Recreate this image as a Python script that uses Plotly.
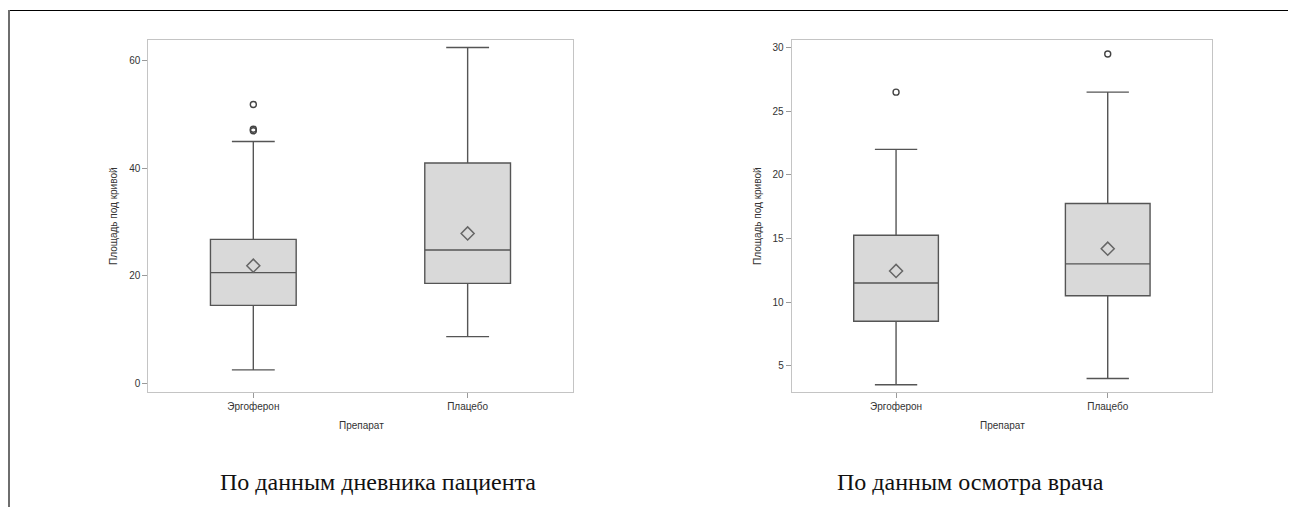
import plotly.graph_objects as go

# page body has an 8px margin; figure placed at (8, 8)
OFF = 8
W, H = 1296 - OFF, 507 - OFF

categories = ["Эргоферон", "Плацебо"]

# Left panel: по данным дневника пациента
left_q1 = [14.5, 18.6]
left_median = [20.6, 24.8]
left_q3 = [26.8, 41.0]
left_lower = [2.5, 8.7]
left_upper = [45.0, 62.5]
left_mean = [21.9, 27.9]
left_out_cat = ["Эргоферон", "Эргоферон", "Эргоферон"]
left_out_val = [51.9, 47.3, 47.0]

# Right panel: по данным осмотра врача
right_q1 = [8.5, 10.5]
right_median = [11.5, 13.0]
right_q3 = [15.25, 17.75]
right_lower = [3.5, 4.0]
right_upper = [22.0, 26.5]
right_mean = [12.45, 14.2]
right_out_cat = ["Эргоферон", "Плацебо"]
right_out_val = [26.5, 29.5]

y_title = "Площадь под кривой"
x_title = "Препарат"
panel_titles = ["По данным дневника пациента", "По данным осмотра врача"]

BOX_FILL = "#d9d9d9"
BOX_LINE = "#555555"
FONT = "Liberation Sans, Arial, sans-serif"

fig = go.Figure()

def add_panel(xa, ya, q1, med, q3, lo, up, mean, oc, ov):
    fig.add_trace(go.Box(
        x=categories, q1=q1, median=med, q3=q3, lowerfence=lo, upperfence=up,
        xaxis=xa, yaxis=ya, width=0.4, whiskerwidth=0.5, boxpoints=False,
        fillcolor=BOX_FILL, line=dict(color=BOX_LINE, width=1.4),
        showlegend=False, hoverinfo="skip"))
    fig.add_trace(go.Scatter(
        x=categories, y=mean, xaxis=xa, yaxis=ya, mode="markers",
        marker=dict(symbol="diamond-open", size=10, color="#666666",
                    line=dict(width=1.5, color="#666666")),
        showlegend=False, hoverinfo="skip"))
    fig.add_trace(go.Scatter(
        x=oc, y=ov, xaxis=xa, yaxis=ya, mode="markers",
        marker=dict(symbol="circle-open", size=6, color="#444444",
                    line=dict(width=1.4, color="#444444")),
        showlegend=False, hoverinfo="skip"))

add_panel("x", "y", left_q1, left_median, left_q3, left_lower, left_upper,
          left_mean, left_out_cat, left_out_val)
add_panel("x2", "y2", right_q1, right_median, right_q3, right_lower, right_upper,
          right_mean, right_out_cat, right_out_val)

px = lambda v: (v - OFF) / W
py = lambda v: 1 - (v - OFF) / H

axis_common = dict(
    showline=True, mirror=True, linecolor="#c4c4c4", linewidth=1,
    ticks="outside", ticklen=5, tickcolor="#9a9a9a", tickwidth=1,
    showgrid=False, zeroline=False,
    tickfont=dict(family=FONT, size=10, color="#333333"),
)

L = [148.3, 573.3, 40, 391.7]
R = [791.7, 1212.3, 40, 392.3]

fig.update_layout(
    width=W, height=H, margin=dict(l=0, r=0, t=0, b=0),
    paper_bgcolor="white", plot_bgcolor="white",
    xaxis=dict(domain=[px(L[0]), px(L[1])], anchor="y", type="category",
               range=[-0.49, 1.493], fixedrange=True, **axis_common),
    yaxis=dict(domain=[py(L[3]), py(L[2])], anchor="x",
               range=[-1.56, 63.9], tickvals=[0, 20, 40, 60], **axis_common),
    xaxis2=dict(domain=[px(R[0]), px(R[1])], anchor="y2", type="category",
                range=[-0.493, 1.494], fixedrange=True, **axis_common),
    yaxis2=dict(domain=[py(R[3]), py(R[2])], anchor="x2",
                range=[2.91, 30.6], tickvals=[5, 10, 15, 20, 25, 30], **axis_common),
    annotations=[
        dict(text=y_title, x=px(113), y=py(216), xref="paper", yref="paper",
             textangle=-90, showarrow=False, xanchor="center", yanchor="middle",
             font=dict(family=FONT, size=10, color="#333333")),
        dict(text=x_title, x=px(361), y=py(425), xref="paper", yref="paper",
             showarrow=False, xanchor="center", yanchor="middle",
             font=dict(family=FONT, size=10, color="#333333")),
        dict(text=y_title, x=px(757), y=py(216), xref="paper", yref="paper",
             textangle=-90, showarrow=False, xanchor="center", yanchor="middle",
             font=dict(family=FONT, size=10, color="#333333")),
        dict(text=x_title, x=px(1002), y=py(425), xref="paper", yref="paper",
             showarrow=False, xanchor="center", yanchor="middle",
             font=dict(family=FONT, size=10, color="#333333")),
        dict(text=panel_titles[0], x=px(378), y=py(482), xref="paper", yref="paper",
             showarrow=False, xanchor="center", yanchor="middle",
             font=dict(family="Liberation Serif, Times New Roman, serif", size=24, color="#111111")),
        dict(text=panel_titles[1], x=px(970), y=py(482), xref="paper", yref="paper",
             showarrow=False, xanchor="center", yanchor="middle",
             font=dict(family="Liberation Serif, Times New Roman, serif", size=24, color="#111111")),
    ],
    shapes=[
        dict(type="line", xref="paper", yref="paper", x0=px(8), x1=1, y0=py(10.5), y1=py(10.5),
             line=dict(color="#000000", width=1)),
        dict(type="line", xref="paper", yref="paper", x0=px(9), x1=px(9), y0=py(10), y1=0,
             line=dict(color="#6e6e6e", width=2)),
    ],
)

fig.write_html("out.html")
